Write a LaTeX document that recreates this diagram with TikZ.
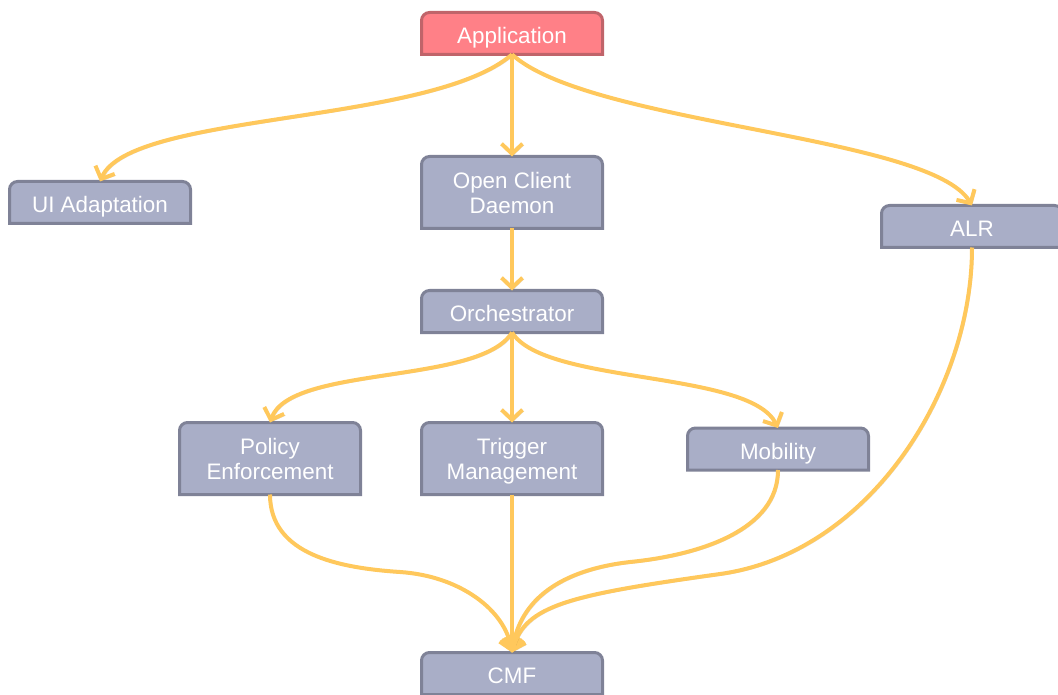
\documentclass[tikz,border=0pt]{standalone}
\usepackage{fontspec}
\setmainfont{Liberation Sans}
\usetikzlibrary{arrows.meta,backgrounds}

\definecolor{boxfill}{HTML}{A9AEC7}
\definecolor{boxline}{HTML}{7F8297}
\definecolor{appfill}{HTML}{FF8087}
\definecolor{appline}{HTML}{C0646A}
\definecolor{flow}{HTML}{FFC85C}

\tikzset{
  box/.style={minimum width=181pt, minimum height=42pt, inner sep=0pt, outer sep=0pt,
    text=white, font=\fontsize{22.4}{25}\selectfont, align=center,
    text height=20pt, text depth=0pt},
  tall/.style={minimum height=72pt, text height=, text depth=-5pt},
  flowline/.style={draw=flow, line width=4pt,
    -{Straight Barb[length=10pt,width=21pt]},
    preaction={draw=black, draw opacity=0.15,
      transform canvas={shift={(1.5pt,-1.5pt)}}}},
}

% box with rounded top corners and a square bottom
\newcommand\tabbox[3]{%
  \draw[line width=3pt, fill=#2, draw=#3]
    (#1.south west) -- ([yshift=-8pt]#1.north west)
    arc[start angle=180, end angle=90, radius=8pt]
    -- ([xshift=-8pt]#1.north east)
    arc[start angle=90, end angle=0, radius=8pt]
    -- (#1.south east) -- cycle;}

\begin{document}
\begin{tikzpicture}[x=1pt, y=1pt]
  \useasboundingbox (0,0) rectangle (1058,-695);
  \clip (0,0) rectangle (1058,-695);

  % nodes
  \node[box]       (app)  at (512,-33.5)  {Application};
  \node[box]       (ui)   at (100,-202.5) {UI Adaptation};
  \node[box, tall] (ocd)  at (512,-192.5) {Open Client\\Daemon};
  \node[box]       (alr)  at (972,-226.5) {ALR};
  \node[box]       (orch) at (512,-311.5) {Orchestrator};
  \node[box, tall] (pol)  at (270,-458.5) {Policy\\Enforcement};
  \node[box, tall] (trig) at (512,-458.5) {Trigger\\Management};
  \node[box]       (mob)  at (778,-449)   {Mobility};
  \node[box]       (cmf)  at (512,-673.5) {CMF};

  \begin{pgfonlayer}{background}
    \tabbox{app}{appfill}{appline}
    \foreach \n in {ui,ocd,alr,orch,pol,trig,mob,cmf}{\tabbox{\n}{boxfill}{boxline}}
  \end{pgfonlayer}

  % connectors
  \draw[flowline] (app.south) .. controls (430,-125) and (130,-112) .. (ui.north);
  \draw[flowline] (app.south) -- (ocd.north);
  \draw[flowline] (app.south) .. controls (590,-125) and (930,-135) .. (alr.north);
  \draw[flowline] (ocd.south) -- (orch.north);
  \draw[flowline] (orch.south) .. controls (480,-385) and (290,-365) .. (pol.north);
  \draw[flowline] (orch.south) -- (trig.north);
  \draw[flowline] (orch.south) .. controls (545,-385) and (750,-370) .. (mob.north);
  \draw[flowline] (pol.south) .. controls (270,-555) and (340,-568) .. (400,-572)
                  .. controls (460,-576) and (505,-610) .. (cmf.north);
  \draw[flowline] (trig.south) -- (cmf.north);
  \draw[flowline] (mob.south) .. controls (778,-530) and (700,-555) .. (630,-562)
                  .. controls (560,-570) and (520,-600) .. (cmf.north);
  \draw[flowline] (alr.south) .. controls (972,-390) and (870,-553) .. (720,-574)
                  .. controls (570,-595) and (525,-605) .. (cmf.north);
\end{tikzpicture}
\end{document}
